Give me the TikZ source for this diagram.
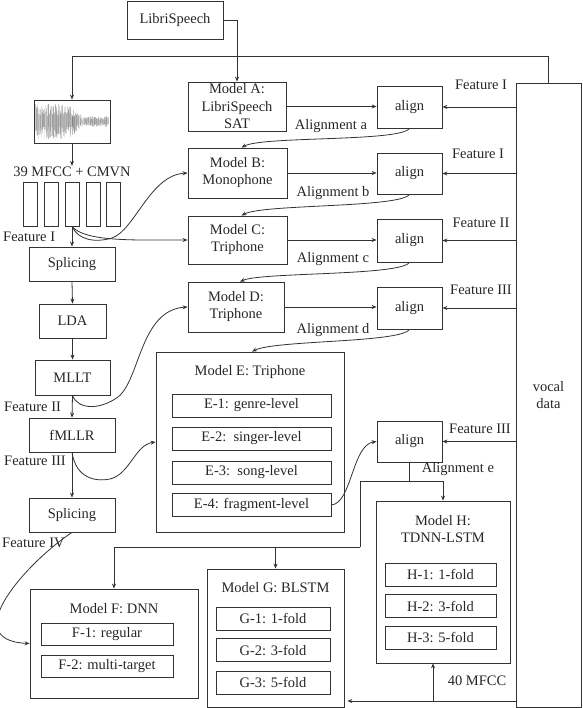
\documentclass[tikz,border=0pt]{standalone}
\usepackage{fontspec}
\setmainfont{Liberation Serif}
\usetikzlibrary{arrows.meta}
\begin{document}
\begin{tikzpicture}[x=1pt,y=-1pt,
 bx/.style={draw=black!80, line width=0.8pt, inner sep=0pt, align=center, font=\fontsize{14.5}{17}\selectfont, text=black!85},
 lbl/.style={inner sep=0pt, font=\fontsize{14.5}{17}\selectfont, text=black!85},
 ln/.style={draw=black!80, line width=0.8pt},
 ar/.style={ln, -{Stealth[length=5pt,width=4pt]}},
]
\useasboundingbox (0,0) rectangle (582,708);
% left column
\node[bx, minimum width=76pt, minimum height=43pt] (wave) at (72,121.5) {};
\pgfmathsetseed{11}
\foreach \xx in {35.5,35.9,...,108.5} {
  \pgfmathsetmacro\env{\xx<68?18:(\xx<84?18-0.85*(\xx-68):4.5+1.5*rnd)}
  \pgfmathsetmacro\aa{\env*(0.3+0.7*rnd)}
  \pgfmathsetmacro\bb{\env*(0.3+0.7*rnd)}
  \pgfmathsetmacro\op{0.12+0.3*rnd}
  \draw[black!60, line width=0.45pt, opacity=\op] (\xx,121.5-\aa) -- (\xx,121.5+\bb);
}
\node[bx, minimum width=96pt, minimum height=38pt] (libri) at (175,20) {LibriSpeech};
\node[lbl, inner sep=1pt] (mfcc) at (72,172) {39 MFCC + CMVN};
\node[bx, minimum width=14pt, minimum height=44pt] (r1) at (30,204) {};
\node[bx, minimum width=14pt, minimum height=44pt] (r2) at (51.5,204) {};
\node[bx, minimum width=14pt, minimum height=44pt] (r3) at (72,204) {};
\node[bx, minimum width=14pt, minimum height=44pt] (r4) at (93,204) {};
\node[bx, minimum width=14pt, minimum height=44pt] (r5) at (113,204) {};
\node[lbl, anchor=west] (f1) at (3,237) {Feature I};
\node[bx, minimum width=86pt, minimum height=34pt] (sp1) at (72,264) {Splicing};
\node[bx, minimum width=67pt, minimum height=34pt] (lda) at (72.5,321) {LDA};
\node[bx, minimum width=75pt, minimum height=35pt] (mllt) at (72.5,377.5) {MLLT};
\node[lbl, anchor=west] (f2) at (4,407) {Feature II};
\node[bx, minimum width=86pt, minimum height=34pt] (fmllr) at (72,435) {fMLLR};
\node[lbl, anchor=west] (f3) at (4,461) {Feature III};
\node[bx, minimum width=86pt, minimum height=34pt] (sp2) at (72,515) {Splicing};
\node[lbl, anchor=west] (f4) at (2,543) {Feature IV};
% models A-D
\node[bx, minimum width=98pt, minimum height=49pt, font=\fontsize{14.5}{17.5}\selectfont] (ma) at (237,106.5) {Model A:\\LibriSpeech\\SAT};
\node[bx, minimum width=99pt, minimum height=50pt] (mb) at (237.5,173) {Model B:\\Monophone};
\node[bx, minimum width=99pt, minimum height=48pt] (mc) at (237.5,240) {Model C:\\Triphone};
\node[bx, minimum width=96pt, minimum height=50pt] (md) at (236,307) {Model D:\\Triphone};
% align boxes
\node[bx, minimum width=65pt, minimum height=42pt] (aa) at (409.5,107) {align};
\node[bx, minimum width=65pt, minimum height=41pt] (ab) at (409.5,173.5) {align};
\node[bx, minimum width=65pt, minimum height=43pt] (ac) at (409.5,240.5) {align};
\node[bx, minimum width=65pt, minimum height=42pt] (ad) at (409.5,308) {align};
\node[bx, minimum width=65pt, minimum height=41pt] (ae) at (409.5,441.5) {align};
% vocal data
\node[bx, minimum width=65pt, minimum height=624pt] (vocal) at (548.5,395) {vocal\\data};
% model E
\node[bx, minimum width=188pt, minimum height=180pt] (me) at (250,442) {};
\node[lbl] (met) at (250,372) {Model E: Triphone};
\node[bx, minimum width=159pt, minimum height=23pt] (e1) at (251.5,405.5) {E-1: genre-level};
\node[bx, minimum width=159pt, minimum height=23pt] (e2) at (251.5,438.5) {E-2:\ \ singer-level};
\node[bx, minimum width=159pt, minimum height=23pt] (e3) at (251.5,472.5) {E-3:\ \ song-level};
\node[bx, minimum width=159pt, minimum height=23pt] (e4) at (251.5,505) {E-4: fragment-level};
% model F
\node[bx, minimum width=168pt, minimum height=109pt] (mf) at (114,643.5) {};
\node[lbl] (mft) at (114,609) {Model F: DNN};
\node[bx, minimum width=132pt, minimum height=22pt] (ff1) at (107,634) {F-1: regular};
\node[bx, minimum width=132pt, minimum height=22pt] (ff2) at (107,666) {F-2: multi-target};
% model G
\node[bx, minimum width=137pt, minimum height=138pt] (mg) at (275.5,638) {};
\node[lbl] (mgt) at (275.5,588) {Model G: BLSTM};
\node[bx, minimum width=114pt, minimum height=23pt] (g1) at (273,618.5) {G-1: 1-fold};
\node[bx, minimum width=114pt, minimum height=23pt] (g2) at (273,650) {G-2: 3-fold};
\node[bx, minimum width=114pt, minimum height=23pt] (g3) at (273,682.5) {G-3: 5-fold};
% model H
\node[bx, minimum width=134pt, minimum height=162pt] (mh) at (443,582) {};
\node[lbl, align=center] (mht) at (443,529) {Model H:\\TDNN-LSTM};
\node[bx, minimum width=111pt, minimum height=23pt] (h1) at (440.5,574.5) {H-1: 1-fold};
\node[bx, minimum width=111pt, minimum height=23pt] (h2) at (440.5,606) {H-2: 3-fold};
\node[bx, minimum width=111pt, minimum height=23pt] (h3) at (440.5,637.5) {H-3: 5-fold};
% labels right
\node[lbl] (fr1) at (481,85) {Feature I};
\node[lbl] (fr2) at (478,154) {Feature I};
\node[lbl] (fr3) at (481,223) {Feature II};
\node[lbl] (fr4) at (481,290) {Feature III};
\node[lbl] (fr5) at (480,429) {Feature III};
\node[lbl] (la) at (331,126) {Alignment a};
\node[lbl] (lb) at (333,193) {Alignment b};
\node[lbl] (lc) at (333,259) {Alignment c};
\node[lbl] (ld) at (333,330) {Alignment d};
\node[lbl] (le) at (458,469) {Alignment e};
\node[lbl] (l40) at (477,681) {40 MFCC};
% connectors
\draw[ar] (libri.east) -| (ma.north);
\coordinate (tl) at (72,56);
\draw[ar] (vocal.north) |- (tl) -- (wave.north);
\draw[ar] (wave.south) -- (mfcc.north);
\draw[ar] (r3.south) -- (sp1.north);
\draw[ar] (sp1.south) -- (lda.north);
\draw[ar] (lda.south) -- (mllt.north);
\draw[ar] (mllt.south) -- (fmllr.north);
\draw[ar] (fmllr.south) -- (sp2.north);
\draw[ar] (r3.south) .. controls (78,240) and (95,243) .. (112,238) .. controls (135,230) and (150,175) .. (mb.west);
\draw[ar] (r3.south) .. controls (85,242) and (135,240) .. (mc.west);
\draw[ar] (mllt.south) .. controls (78,410) and (100,410) .. (118,397) .. controls (140,380) and (140,310) .. (md.west);
\draw[ar] (fmllr.south) .. controls (76,478) and (95,482) .. (110,479) .. controls (130,474) and (135,445) .. (me.west);
\draw[ar] (sp2.south) .. controls (30,560) and (-45,640) .. (mf.west);
\foreach \m/\a in {ma/aa, mb/ab, mc/ac, md/ad} {
  \draw[ar] (\m.east) -- (\m.east -| \a.west);
  \draw[ar] (\a.east -| vocal.west) -- (\a.east);
}
\draw[ar] (ae.east -| vocal.west) -- (ae.east);
\draw[ar] (aa.south) .. controls (400,142) and (262,136) .. ([xshift=4pt]mb.north);
\draw[ar] (ab.south) .. controls (400,208) and (262,204) .. ([xshift=4pt]mc.north);
\draw[ar] (ac.south) .. controls (400,276) and (262,272) .. ([xshift=4pt]md.north);
\draw[ar] (ad.south) .. controls (400,343) and (275,340) .. ([xshift=2pt]me.north);
\draw[ar] (e4.east) .. controls (352,503) and (352,445) .. (ae.west);
\coordinate (j1) at (409.5,481);
\coordinate (j2) at (360,547);
\draw[ln] (ae.south) -- (j1);
\draw[ar] (j1) -| (mh.north);
\draw[ln] (j1) -| (j2);
\draw[ar] (j2) -| (mf.north);
\draw[ar] (mg.north |- j2) -- (mg.north);
\coordinate (bot) at (433,701);
\draw[ar] (bot -| vocal.west) -- ([xshift=3pt]bot -| mg.east);
\draw[ar] (bot) -- (bot |- mh.south);
\end{tikzpicture}
\end{document}
